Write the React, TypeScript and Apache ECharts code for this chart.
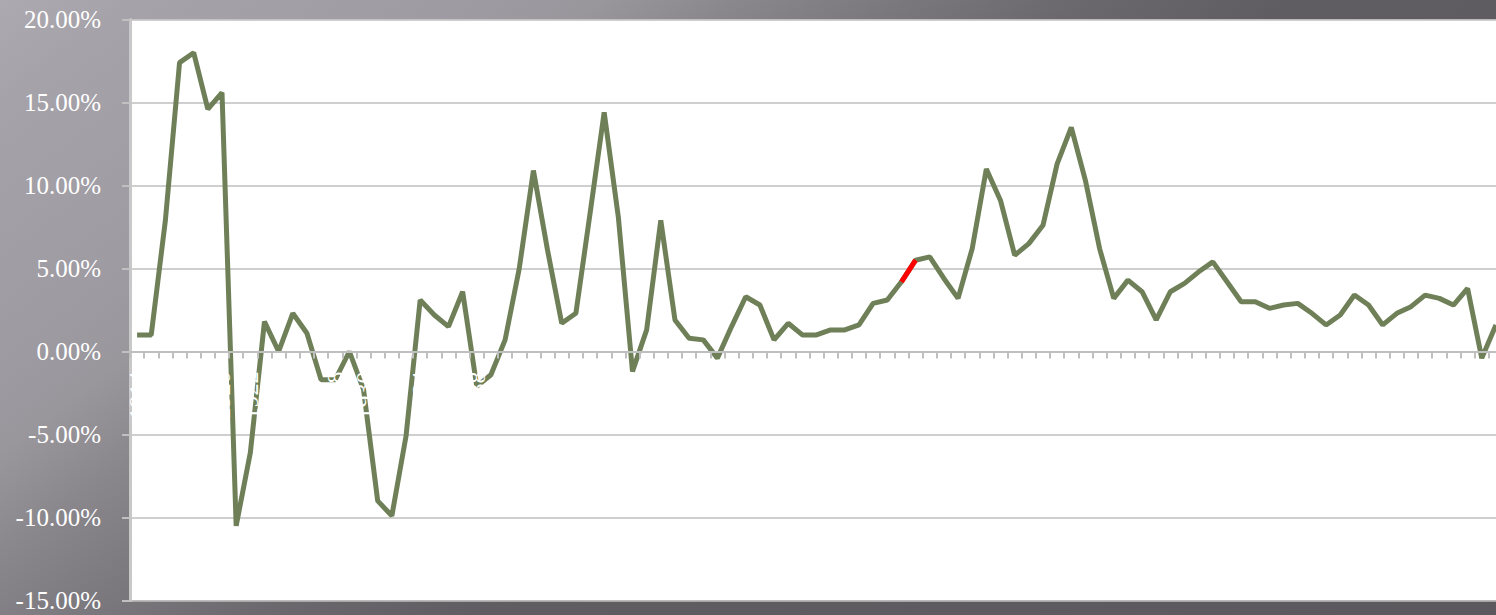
import React, { useEffect, useRef } from "react";
import * as echarts from "echarts";

const firstYear = 1914;
const inflation: number[] = [
  1.0, 1.0, 7.9, 17.4, 18.0, 14.6, 15.6, -10.5, -6.1, 1.8,
  0.0, 2.3, 1.1, -1.7, -1.7, 0.0, -2.3, -9.0, -9.9, -5.1,
  3.1, 2.2, 1.5, 3.6, -2.1, -1.4, 0.7, 5.0, 10.9, 6.1,
  1.7, 2.3, 8.3, 14.4, 8.1, -1.2, 1.3, 7.9, 1.9, 0.8,
  0.7, -0.4, 1.5, 3.3, 2.8, 0.7, 1.7, 1.0, 1.0, 1.3,
  1.3, 1.6, 2.9, 3.1, 4.2, 5.5, 5.7, 4.4, 3.2, 6.2,
  11.0, 9.1, 5.8, 6.5, 7.6, 11.3, 13.5, 10.3, 6.2, 3.2,
  4.3, 3.6, 1.9, 3.6, 4.1, 4.8, 5.4, 4.2, 3.0, 3.0,
  2.6, 2.8, 2.9, 2.3, 1.6, 2.2, 3.4, 2.8, 1.6, 2.3,
  2.7, 3.4, 3.2, 2.8, 3.8, -0.4, 1.6,
];
const years: string[] = inflation.map((_, i) => String(firstYear + i));
const highlightYears: string[] = ["1968", "1969"];
const highlight = inflation.map((v, i) =>
  highlightYears.includes(years[i]) ? v : null
);

const yMin = -15;
const yMax = 20;
const gridTop = 19.5;
const gridBottom = 14.5;
const chartH = 615;

export default function App() {
  const ref = useRef<HTMLDivElement>(null);
  useEffect(() => {
    document.body.style.margin = "0";
    document.body.style.overflow = "hidden";
    document.documentElement.style.overflow = "hidden";
    const chart = echarts.init(ref.current!, null, { renderer: "svg" });
    const plotH = chartH - gridTop - gridBottom;
    const zeroOffset = (plotH * (0 - yMin)) / (yMax - yMin);
    chart.setOption({
      animation: false,
      grid: {
        left: 130,
        top: gridTop,
        bottom: gridBottom,
        right: 0,
        show: true,
        backgroundColor: "#ffffff",
        borderWidth: 0,
        containLabel: false,
        outerBoundsMode: "none",
      },
      xAxis: {
        type: "category",
        data: years,
        boundaryGap: true,
        position: "bottom",
        offset: -zeroOffset,
        z: 3,
        axisLine: { show: true, onZero: false, lineStyle: { color: "#bfbfbf", width: 2 } },
        axisTick: {
          show: true,
          interval: 0,
          length: 7,
          lineStyle: { color: "#bfbfbf", width: 2 },
        },
        axisLabel: {
          interval: 1,
          rotate: 90,
          margin: 20,
          color: "#ffffff",
          fontFamily: "Liberation Serif",
          fontSize: 24,
          showMaxLabel: false,
        },
        splitLine: { show: false },
      },
      yAxis: {
        type: "value",
        min: yMin,
        max: yMax,
        interval: 5,
        axisLine: { show: true, lineStyle: { color: "#c8c8c8", width: 3 } },
        axisTick: { show: true, length: 8, lineStyle: { color: "#c0c0c0", width: 2 } },
        axisLabel: {
          margin: 29,
          color: "#ffffff",
          fontFamily: "Liberation Serif",
          fontSize: 25,
          formatter: (v: number) => v.toFixed(2) + "%",
        },
        splitLine: { show: true, lineStyle: { color: "#bfbfbf", width: 1.5 } },
      },
      series: [
        {
          type: "line",
          data: inflation,
          symbol: "none",
          lineStyle: { color: "#6f8058", width: 5 },
          z: 2,
        },
        {
          type: "line",
          data: highlight,
          symbol: "none",
          connectNulls: false,
          lineStyle: { color: "#ff0000", width: 5 },
          z: 2.5,
        },
      ],
    });
    return () => chart.dispose();
  }, []);
  return (
    <div
      style={{
        width: 1496,
        height: 615,
        overflow: "hidden",
        position: "relative",
        background:
          "linear-gradient(143deg, #aca9b0 0%, #a5a2a9 6%, #9e9ba2 20%, #99969c 26%, #89868c 32%, #7a777d 39%, #6a676d 47%, #5f5c62 56%, #5b585e 100%)",
      }}
    >
      <div ref={ref} style={{ width: 1503, height: 615 }} />
    </div>
  );
}
